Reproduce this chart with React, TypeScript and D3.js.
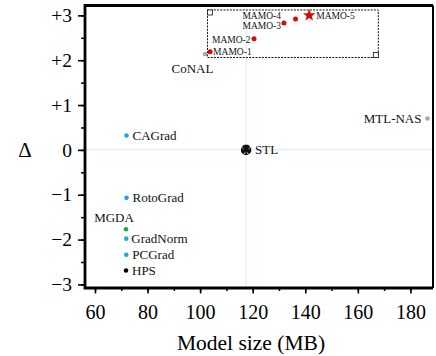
import { useEffect, useRef } from 'react';
import * as d3 from 'd3';

// methods, model size (MB) and Δ
const methods = ['HPS', 'PCGrad', 'GradNorm', 'MGDA', 'RotoGrad', 'CAGrad', 'CoNAL', 'MTL-NAS', 'STL',
  'MAMO-1', 'MAMO-2', 'MAMO-3', 'MAMO-4', 'MAMO-5'];
const sizes = [71.8, 71.9, 71.9, 71.8, 72.0, 72.0, 101.9, 186.5, 117.5, 103.8, 120.5, 131.9, 136.3, 141.5];
const deltas = [-2.69, -2.34, -1.98, -1.77, -1.07, 0.32, 2.14, 0.70, 0, 2.19, 2.48, 2.83, 2.92, 3.0];
const groups = ['base', 'grad', 'grad', 'mgda', 'grad', 'grad', 'other', 'other', 'stl',
  'mamo', 'mamo', 'mamo', 'mamo', 'best'];

const xTicks = [60, 80, 100, 120, 140, 160, 180];
const yTicks = [-3, -2, -1, 0, 1, 2, 3];
const yTickLabels = ['\u22123', '\u22122', '\u22121', '0', '+1', '+2', '+3'];

// zoomed region [x0, x1, y0, y1]
const zoomRegion = [102.8, 167.8, 2.06, 3.12];

// label placement: anchor, dx, dy (px)
const labelPlace: [string, number, number][] = [
  ['start', 6, 0], ['start', 6, 0], ['start', 5, 0], ['middle', -12, -11.6], ['start', 6, 0],
  ['start', 6, 0], ['middle', -12.7, 15], ['end', -6, 0], ['start', 9, 0],
  ['start', 3, 0], ['end', -3.5, 1], ['end', -3, 2.2], ['end', -14.6, -3.2], ['start', 7, 0],
];

const colors: Record<string, string> = {
  base: '#000000', grad: '#1aa7ea', mgda: '#1aab47', other: '#a8a8a8', stl: '#000000',
  mamo: '#d40b0b', best: '#d40b0b',
};

const FONT = 'Liberation Serif';

function starPath(cx: number, cy: number, R: number, r: number) {
  const pts: [number, number][] = [];
  for (let i = 0; i < 10; i++) {
    const a = -Math.PI / 2 + (i * Math.PI) / 5;
    const rad = i % 2 === 0 ? R : r;
    pts.push([cx + rad * Math.cos(a), cy + rad * Math.sin(a)]);
  }
  return 'M' + pts.map((p) => p.join(',')).join('L') + 'Z';
}

export default function App() {
  const svgRef = useRef<SVGSVGElement>(null);

  useEffect(() => {
    const svg = d3.select(svgRef.current);
    svg.selectAll('*').remove();

    const width = 436;
    const height = 356;
    const left = 85, right = 433, top = 5.5, bottom = 288;

    const x = d3.scaleLinear().domain([56.2, 188.6]).range([left, right]);
    const y = d3.scaleLinear().domain([-3.08, 3.22]).range([bottom, top]);

    svg.attr('width', width).attr('height', height);

    // reference lines at STL
    svg.append('line')
      .attr('x1', x(117.5)).attr('x2', x(117.5)).attr('y1', top).attr('y2', bottom)
      .attr('stroke', '#d3eaf3').attr('stroke-width', 1);
    svg.append('line')
      .attr('x1', left).attr('x2', right).attr('y1', y(0)).attr('y2', y(0))
      .attr('stroke', '#d3eaf3').attr('stroke-width', 1);

    // zoom box
    const [zx0, zx1, zy0, zy1] = zoomRegion;
    svg.append('rect')
      .attr('x', x(zx0)).attr('y', y(zy1))
      .attr('width', x(zx1) - x(zx0)).attr('height', y(zy0) - y(zy1))
      .attr('fill', 'none').attr('stroke', '#111').attr('stroke-width', 1)
      .attr('stroke-dasharray', '2,1.2');
    svg.append('rect')
      .attr('x', x(zx0)).attr('y', y(zy1)).attr('width', 5).attr('height', 5)
      .attr('fill', 'white').attr('stroke', '#111').attr('stroke-width', 0.8);
    svg.append('rect')
      .attr('x', x(zx1) - 5).attr('y', y(zy0) - 5).attr('width', 5).attr('height', 5)
      .attr('fill', 'white').attr('stroke', '#111').attr('stroke-width', 0.8);

    // axes
    const xAxis = svg.append('g').attr('transform', `translate(0,${bottom})`);
    xAxis.call(d3.axisBottom(x).tickValues(d3.range(60, 181, 10)).tickSize(3).tickFormat(() => ''))
      .call((g) => g.select('.domain').remove())
      .selectAll('line').attr('stroke', '#000').attr('stroke-width', 1.5);
    const xMaj = svg.append('g').attr('transform', `translate(0,${bottom})`);
    xMaj.call(d3.axisBottom(x).tickValues(xTicks).tickSize(5.5).tickPadding(11.5).tickFormat(d3.format('d')))
      .call((g) => g.select('.domain').remove());
    xMaj.attr('font-family', FONT).attr('font-size', 20);
    xMaj.selectAll('line').attr('stroke', '#000').attr('stroke-width', 1.6);
    xMaj.selectAll('text').attr('fill', '#000');

    const yMin = svg.append('g').attr('transform', `translate(${left},0)`);
    yMin.call(d3.axisLeft(y).tickValues(d3.range(-3, 3.01, 0.5)).tickSize(4).tickFormat(() => ''))
      .call((g) => g.select('.domain').remove())
      .selectAll('line').attr('stroke', '#000').attr('stroke-width', 1.5);
    const yMaj = svg.append('g').attr('transform', `translate(${left},0)`);
    yMaj.call(d3.axisLeft(y).tickValues(yTicks).tickSize(7).tickPadding(6)
      .tickFormat((_, i) => yTickLabels[i]))
      .call((g) => g.select('.domain').remove());
    yMaj.attr('font-family', FONT).attr('font-size', 19.5);
    yMaj.selectAll('line').attr('stroke', '#000').attr('stroke-width', 1.6);
    yMaj.selectAll('text').attr('fill', '#000');

    // frame
    svg.append('path')
      .attr('d', `M${right},${bottom}H${left}V${top}H${right}`)
      .attr('fill', 'none').attr('stroke', '#000').attr('stroke-width', 2.8);
    svg.append('path')
      .attr('d', `M${right},${top}V${bottom}`)
      .attr('fill', 'none').attr('stroke', '#000').attr('stroke-width', 2);

    // points
    const labels = svg.append('g').attr('font-family', FONT);
    methods.forEach((m, i) => {
      const px = x(sizes[i]);
      const py = y(deltas[i]);
      const g = groups[i];
      if (g === 'best') {
        svg.append('path').attr('d', starPath(px, py, 6.5, 2.7)).attr('fill', colors[g]);
      } else if (g === 'stl') {
        const oct = d3.range(8).map((k) => {
          const a = Math.PI / 8 + (k * Math.PI) / 4;
          return [px + 5.5 * Math.cos(a), py + 5.5 * Math.sin(a)];
        });
        svg.append('path').attr('d', 'M' + oct.map((p) => p.join(',')).join('L') + 'Z').attr('fill', '#111');
        svg.append('path')
          .attr('d', `M${px - 5},${py - 3.2}L${px - 2.6},${py - 1}M${px + 5},${py - 3.2}L${px + 2.6},${py - 1}M${px - 2.5},${py + 5}L${px - 1},${py + 2.5}M${px + 2.5},${py + 5}L${px + 1},${py + 2.5}`)
          .attr('stroke', 'white').attr('stroke-width', 0.8);
      } else {
        svg.append('circle').attr('cx', px).attr('cy', py)
          .attr('r', g === 'mamo' ? 2.5 : 2.3).attr('fill', colors[g]);
      }
      const [anchor, dx, dy] = labelPlace[i];
      const small = g === 'mamo' || g === 'best';
      labels.append('text')
        .attr('x', px + dx).attr('y', py + dy).attr('dy', '0.35em')
        .attr('text-anchor', anchor)
        .attr('font-size', small ? 9.5 : 13).attr('fill', '#111')
        .text(m);
    });

    // axis titles
    svg.append('text')
      .attr('x', 251).attr('y', 350).attr('text-anchor', 'middle')
      .attr('font-family', FONT).attr('font-size', 21.5).attr('fill', '#000')
      .text('Model size (MB)');
    svg.append('text')
      .attr('x', 25).attr('y', y(0)).attr('dy', '0.35em').attr('text-anchor', 'middle')
      .attr('font-family', FONT).attr('font-size', 21).attr('fill', '#000')
      .text('\u0394');
  }, []);

  return (
    <div style={{ position: 'absolute', left: 0, top: 0 }}>
      <svg ref={svgRef} style={{ display: 'block' }}></svg>
    </div>
  );
}
